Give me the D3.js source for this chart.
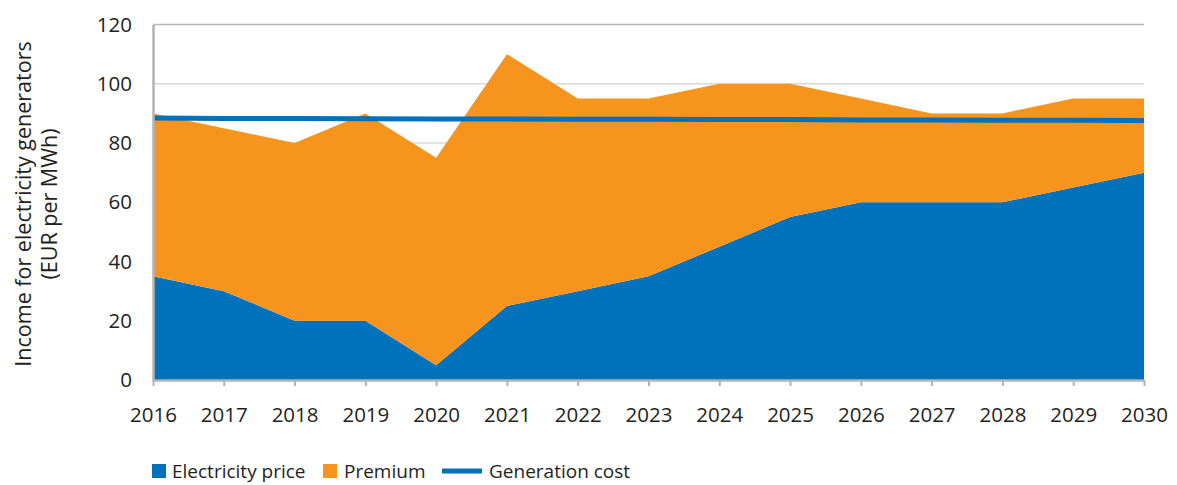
<!DOCTYPE html>
<html>
<head>
<meta charset="utf-8">
<script src="https://cdn.jsdelivr.net/npm/d3@7"></script>
<style>
  html, body { margin: 0; padding: 0; background: #fff; }
  svg { display: block; font-family: "Open Sans", "Noto Sans", sans-serif; }
</style>
</head>
<body>
<svg id="chart" width="1177" height="485"></svg>
<script>
// Years on the horizontal axis
const years = [2016, 2017, 2018, 2019, 2020, 2021, 2022, 2023, 2024, 2025, 2026, 2027, 2028, 2029, 2030];
// Market electricity price (EUR per MWh)
const electricityPrice = [35, 30, 20, 20, 5, 25, 30, 35, 45, 55, 60, 60, 60, 65, 70];
// Premium paid on top of the market price (EUR per MWh)
const premium = [55, 55, 60, 70, 70, 85, 65, 60, 55, 45, 35, 30, 30, 30, 25];
// Generation cost (EUR per MWh)
const generationCost = [88.4, 88.3, 88.3, 88.2, 88.1, 88.1, 88.0, 88.0, 87.9, 87.9, 87.8, 87.8, 87.7, 87.7, 87.6];
// Value axis ticks
const yTicks = [0, 20, 40, 60, 80, 100, 120];

const colors = { price: "#0071bb", premium: "#f7941e", cost: "#0071bb" };
const textColor = "#231f20";

const svg = d3.select("#chart");
const margin = { left: 153, right: 33, top: 24.5, bottom: 105 };
const W = 1177, H = 485;

const x = d3.scalePoint().domain(years).range([margin.left, W - margin.right]);
const y = d3.scaleLinear().domain([0, 120]).range([H - margin.bottom, margin.top]);

// Horizontal grid lines
svg.append("g").selectAll("line").data(yTicks.filter(d => d > 0)).join("line")
  .attr("x1", margin.left).attr("x2", W - margin.right)
  .attr("y1", d => y(d)).attr("y2", d => y(d))
  .attr("stroke", d => d === 120 ? "#b8b8b8" : "#d9d9d9").attr("stroke-width", 1.5);

// Stacked areas
const rows = years.map((yr, i) => ({ year: yr, price: electricityPrice[i], premium: premium[i] }));
const stack = d3.stack().keys(["price", "premium"]);
const series = stack(rows);
const area = d3.area()
  .x(d => x(d.data.year))
  .y0(d => y(d[0]))
  .y1(d => y(d[1]));

svg.append("g").selectAll("path").data(series).join("path")
  .attr("d", area)
  .attr("fill", d => d.key === "price" ? colors.price : colors.premium);

// Generation cost line
const line = d3.line().x((d, i) => x(years[i])).y(d => y(d));
svg.append("path").datum(generationCost)
  .attr("d", line)
  .attr("fill", "none")
  .attr("stroke", colors.cost)
  .attr("stroke-width", 5);

// Y axis
const yAxis = d3.axisLeft(y).tickValues(yTicks).tickSize(0).tickPadding(21);
const gy = svg.append("g").attr("transform", `translate(${margin.left},0)`).call(yAxis);
gy.select(".domain").attr("stroke", "#b3b3b3").attr("stroke-width", 2.5);
gy.selectAll("text").attr("font-size", 20.5).attr("fill", textColor)
  .attr("font-family", "'Open Sans', 'Noto Sans', sans-serif");

// X axis
const xAxis = d3.axisBottom(x).tickSize(6).tickPadding(21).tickSizeOuter(0);
const gx = svg.append("g").attr("transform", `translate(0,${y(0)})`).call(xAxis);
gx.select(".domain").attr("stroke", "#b3b3b3").attr("stroke-width", 2.5);
gx.selectAll(".tick line").attr("stroke", "#b3b3b3").attr("stroke-width", 2);
gx.selectAll("text").attr("font-size", 20.5).attr("fill", textColor)
  .attr("font-family", "'Open Sans', 'Noto Sans', sans-serif");

// Y axis title
const title = svg.append("text")
  .attr("transform", "translate(0,204) rotate(-90)")
  .attr("text-anchor", "middle")
  .attr("font-size", 21.5).attr("fill", textColor);
title.append("tspan").attr("x", 0).attr("y", 31).text("Income for electricity generators");
title.append("tspan").attr("x", 0).attr("y", 57).text("(EUR per MWh)");

// Legend
const legendY = 478;
const lg = svg.append("g").attr("font-size", 19).attr("fill", textColor);
lg.append("rect").attr("x", 152).attr("y", legendY - 14).attr("width", 14).attr("height", 14).attr("fill", colors.price);
lg.append("text").attr("x", 172).attr("y", legendY).text("Electricity price");
lg.append("rect").attr("x", 323).attr("y", legendY - 14).attr("width", 14).attr("height", 14).attr("fill", colors.premium);
lg.append("text").attr("x", 344).attr("y", legendY).text("Premium");
lg.append("line").attr("x1", 442).attr("x2", 482).attr("y1", legendY - 7).attr("y2", legendY - 7)
  .attr("stroke", colors.cost).attr("stroke-width", 5);
lg.append("text").attr("x", 489).attr("y", legendY).text("Generation cost");
</script>
</body>
</html>
